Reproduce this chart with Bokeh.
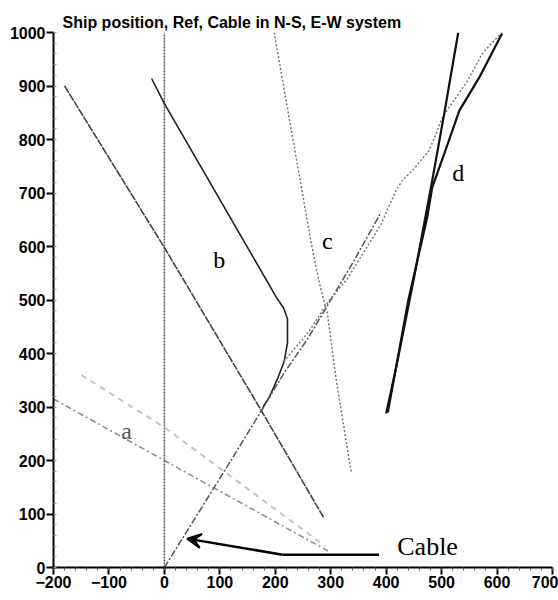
from bokeh.plotting import figure
from bokeh.models import Label, Arrow, VeeHead, SingleIntervalTicker, Range1d
from bokeh.embed import file_html
from bokeh.resources import INLINE

# ---- data ----
ref_x = [0, 0]
ref_y = [0, 1000]

a_low_x = [-200, 0, 300]
a_low_y = [315, 200, 28]

a_up_x = [-150, 0, 290]
a_up_y = [360, 262, 40]

b_left_x = [-180, 0, 175, 288]
b_left_y = [900, 598, 293, 92]

b_right_x = [-23, 0, 202, 215, 222, 222, 216, 205, 190, 178]
b_right_y = [914, 867, 505, 485, 465, 420, 385, 355, 320, 300]

cable_x = [0, 60, 120, 175, 215, 260, 300, 340, 391]
cable_y = [0, 100, 200, 293, 362, 430, 500, 570, 664]

wavy_x = [215, 260, 297, 330, 360, 390, 418, 429, 450, 477, 490, 501, 520, 544, 560, 573, 590, 609]
wavy_y = [385, 440, 499, 540, 590, 640, 705, 723, 745, 779, 810, 841, 870, 905, 935, 960, 980, 1000]

c_x = [198, 265, 280, 294, 310, 337]
c_y = [1000, 605, 530, 474, 350, 178]

d1_x = [400, 418, 450, 483, 505, 530]
d1_y = [288, 374, 540, 723, 850, 1000]

d2_x = [403, 440, 474, 483, 505, 532, 568, 609]
d2_y = [290, 500, 654, 710, 774, 854, 916, 998]

arrow_tail_x = [387, 213]
arrow_tail_y = [24, 24]
arrow_tip = (41, 54)

labels = ["a", "b", "c", "d"]
label_x = [-68, 99, 294, 530]
label_y = [256, 574, 611, 738]

title_text = "Ship position, Ref, Cable in N-S, E-W system"

p = figure(width=558, height=600, output_backend="svg", toolbar_location=None,
           x_range=Range1d(-200, 700), y_range=Range1d(0, 1000),
           min_border_left=53, min_border_right=6, min_border_top=32, min_border_bottom=33,
           title=title_text)
p.outline_line_color = None
p.xgrid.visible = False
p.ygrid.visible = False
p.background_fill_color = "white"

p.title.text_font = "Liberation Sans"
p.title.text_font_style = "bold"
p.title.text_font_size = "16px"
p.title.text_color = "black"
p.title.align = "left"
p.title.offset = 9
p.title.standoff = 3

for ax in (p.xaxis[0], p.yaxis[0]):
    ax.axis_line_width = 2
    ax.axis_line_color = "black"
    ax.major_tick_line_width = 2
    ax.major_tick_line_color = "black"
    ax.major_tick_in = 0
    ax.major_tick_out = 7
    ax.major_label_text_font = "Liberation Sans"
    ax.major_label_text_font_style = "bold"
    ax.major_label_text_font_size = "16px"
    ax.major_label_text_color = "black"
    ax.major_label_standoff = 1

p.xaxis.ticker = SingleIntervalTicker(interval=100, num_minor_ticks=5)
p.yaxis.ticker = SingleIntervalTicker(interval=100, num_minor_ticks=5)
p.xaxis.minor_tick_in = 0
p.xaxis.minor_tick_out = 3
p.xaxis.minor_tick_line_color = "#555555"
p.yaxis.minor_tick_in = 3
p.yaxis.minor_tick_out = 0
p.yaxis.minor_tick_line_color = "#999999"

p.line(ref_x, ref_y, line_color="#555555", line_width=1.5, line_dash="2 1")
p.line(a_up_x, a_up_y, line_color="#c4c4c4", line_width=2, line_dash="6 5")
p.line(a_low_x, a_low_y, line_color="#8a8a8a", line_width=1.5, line_dash="6 3 2 3")
p.line(b_left_x, b_left_y, line_color="#444444", line_width=1.6, line_dash="8 1")
p.line(b_right_x, b_right_y, line_color="#222222", line_width=1.6)
p.line(cable_x, cable_y, line_color="#555555", line_width=1.5, line_dash="7 2 2 2")
p.line(wavy_x, wavy_y, line_color="#777777", line_width=1.5, line_dash="2 2")
p.line(c_x, c_y, line_color="#777777", line_width=1.5, line_dash="2 2")
p.line(d1_x, d1_y, line_color="#111111", line_width=2.2)
p.line(d2_x, d2_y, line_color="#111111", line_width=2.2)

p.line(arrow_tail_x, arrow_tail_y, line_color="black", line_width=2.5)
p.add_layout(Arrow(end=VeeHead(size=14, fill_color="black", line_color="black", line_width=2),
                   x_start=arrow_tail_x[1], y_start=arrow_tail_y[1],
                   x_end=arrow_tip[0], y_end=arrow_tip[1],
                   line_color="black", line_width=2.5))

for t, x, y in zip(labels, label_x, label_y):
    p.add_layout(Label(x=x, y=y, text=t, text_font="Liberation Serif", text_font_size="24px",
                       text_align="center", text_baseline="middle",
                       text_color="#555555" if t == "a" else "black"))

p.add_layout(Label(x=420, y=39, text="Cable", text_font="Liberation Serif",
                   text_font_size="26px", text_align="left", text_baseline="middle",
                   text_color="black"))

open("out.html", "w").write(file_html(p, INLINE))
